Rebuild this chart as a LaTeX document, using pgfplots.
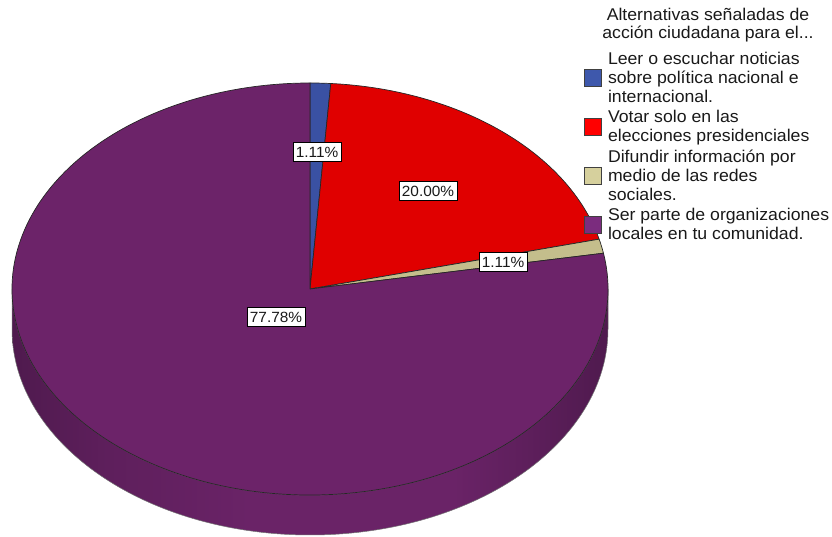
\documentclass[border=0pt]{standalone}
\usepackage{fontspec}
\setmainfont[FakeStretch=1.04]{Liberation Sans}
\usepackage{pgfplots}
\pgfplotsset{compat=1.18}

% top faces of the slices (a bit darker than the legend keys)
\definecolor{topBlue}{HTML}{3A51A3}
\definecolor{topRed}{HTML}{E00000}
\definecolor{topTan}{HTML}{C4BE8C}
\definecolor{topPurple}{HTML}{6C2369}
\definecolor{sideDark}{HTML}{4F1A4E}
\definecolor{sideMid}{HTML}{5E1F5C}
\definecolor{sideLight}{HTML}{6A2367}
% legend keys
\definecolor{keyBlue}{HTML}{3E58AC}
\definecolor{keyRed}{HTML}{FF0000}
\definecolor{keyTan}{HTML}{D6D09D}
\definecolor{keyPurple}{HTML}{7B2C7E}

% rim shading: path bbox maps to 25bp..75bp
\pgfdeclarehorizontalshading{rim}{100bp}{%
  color(0bp)=(sideDark); color(25bp)=(sideDark); color(33bp)=(sideMid);
  color(45bp)=(sideLight); color(62bp)=(sideLight); color(68bp)=(sideMid);
  color(75bp)=(sideDark); color(100bp)=(sideDark)}

% pie geometry (1 unit = 1pt): centre, radii
\def\cx{310}\def\cy{248}
\def\rx{298pt}\def\ry{206pt}

% slice from cumulative percent #1 to #2, clockwise from 12 o'clock
\newcommand{\pieslice}[3]{%
  \fill[#3, draw=black!85, line width=0.7pt, line join=round]
    (axis cs:\cx,\cy) -- ++({90-3.6*#1}:\rx\space and \ry)
    arc[start angle={90-3.6*#1}, end angle={90-3.6*#2}, x radius=\rx, y radius=\ry]
    -- cycle;}

\begin{document}
\begin{tikzpicture}
\begin{axis}[
    width=832pt, height=537pt,
    scale only axis,
    xmin=0, xmax=832,
    ymin=0, ymax=537,
    hide axis,
    clip=false,
    legend style={
        at={(axis cs:584,487)}, anchor=north west,
        draw=none, fill=none,
        font={\fontsize{17}{18.9}\selectfont},
        text=black!90,
        row sep=2.6pt, column sep=4pt,
        inner sep=0pt,
        cells={anchor=west, align=left, inner sep=0pt},
    },
    sq/.style={legend image code/.code={%
        \draw[fill=#1, draw=black!75, line width=0.8pt] (0pt,-8.5pt) rectangle (17pt,8.5pt);}},
]

% visible rim (front half, all of it belongs to the largest slice)
\path[shading=rim, draw=black!55, line width=0.5pt]
    (axis cs:12,\cy) arc[start angle=180, end angle=360, x radius=\rx, y radius=\ry]
    -- ++(0pt,-40pt)
    arc[start angle=0, end angle=-180, x radius=\rx, y radius=\ry] -- cycle;

% values (percent): 1.11, 20.00, 1.11, 77.78 -> cumulative bounds
\pieslice{0}{1.11}{topBlue}
\pieslice{1.11}{21.11}{topRed}
\pieslice{21.11}{22.22}{topTan}
\pieslice{22.22}{100}{topPurple}

\tikzset{pct/.style={draw=black, fill=white, line width=0.8pt,
    inner xsep=2.8pt, inner ysep=4.6pt,
    font={\fontsize{14.8}{16}\selectfont}, text=black!90}}
\node[pct] at (axis cs:317,385) {1.11\%};
\node[pct] at (axis cs:428,346) {20.00\%};
\node[pct] at (axis cs:503,275) {1.11\%};
\node[pct] at (axis cs:276,220) {77.78\%};

\node[align=center, font={\fontsize{17}{18}\selectfont}, text=black!90]
    at (axis cs:708,512) {Alternativas señaladas de\\acción ciudadana para el...};

\addlegendimage{sq=keyBlue}
\addlegendentry{Leer o escuchar noticias\\sobre política nacional e\\internacional.}
\addlegendimage{sq=keyRed}
\addlegendentry{Votar solo en las\\elecciones presidenciales}
\addlegendimage{sq=keyTan}
\addlegendentry{Difundir información por\\medio de las redes\\sociales.}
\addlegendimage{sq=keyPurple}
\addlegendentry{Ser parte de organizaciones\\locales en tu comunidad.}
\end{axis}
\pgfresetboundingbox
\useasboundingbox (current axis.south west) rectangle (current axis.north east);
\end{tikzpicture}
\end{document}
